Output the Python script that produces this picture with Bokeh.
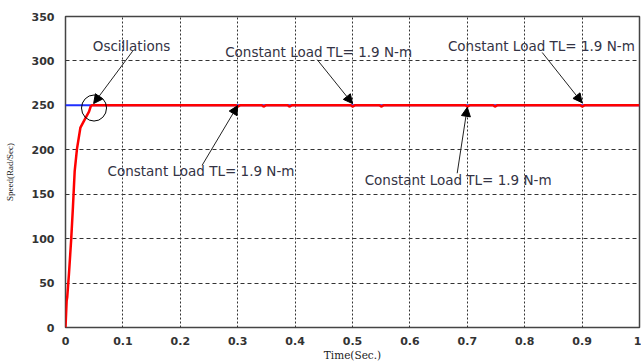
from bokeh.plotting import figure
from bokeh.models import Range1d, FixedTicker, Arrow, NormalHead
from bokeh.core.properties import value
from bokeh.embed import file_html
from bokeh.resources import INLINE

# Rotor speed response (Rad/Sec) against time (Sec.)
time = [0.0, 0.001, 0.002, 0.003, 0.006, 0.010, 0.013, 0.016, 0.020, 0.026,
        0.035, 0.041, 0.044, 0.046,
        0.297, 0.300, 0.304, 0.342, 0.345, 0.349, 0.387, 0.390, 0.394,
        0.497, 0.500, 0.504, 0.547, 0.550, 0.554,
        0.697, 0.700, 0.704, 0.745, 0.748, 0.752,
        0.897, 0.900, 0.904, 1.0]
speed = [0, 15, 30, 34, 60, 100, 136, 176, 201, 225,
         236, 243, 249, 250,
         250, 248.6, 250, 250, 248.6, 250, 250, 248.6, 250,
         250, 248.6, 250, 250, 248.6, 250,
         250, 248.6, 250, 250, 248.6, 250,
         250, 248.6, 250, 250]

# Reference speed
ref_time = [0.0, 1.0]
ref_speed = [250, 250]

# Instants where the constant load is marked
load_times = [0.3, 0.5, 0.7, 0.9]
load_label = "Constant Load TL= 1.9 N-m"

x_ticks = [0, 0.1, 0.2, 0.3, 0.4, 0.5, 0.6, 0.7, 0.8, 0.9, 1.0]
x_tick_labels = ["0", "0.1", "0.2", "0.3", "0.4", "0.5", "0.6", "0.7", "0.8", "0.9", "1"]
y_ticks = [0, 50, 100, 150, 200, 250, 300, 350]

p = figure(width=641, height=363, output_backend="svg", toolbar_location=None,
           x_range=Range1d(0, 1), y_range=Range1d(0, 350),
           min_border_left=65, min_border_right=2, min_border_top=16, min_border_bottom=25)

p.background_fill_color = "white"
p.border_fill_color = "white"
p.outline_line_color = "#444444"
p.outline_line_width = 1.5

# grid: dotted verticals, dashed horizontals
p.xgrid.grid_line_color = "#333333"
p.xgrid.grid_line_dash = "2 2"
p.ygrid.grid_line_color = "#333333"
p.ygrid.grid_line_dash = "4 3"

p.xaxis.ticker = FixedTicker(ticks=x_ticks)
p.xaxis.major_label_overrides = {t: s for t, s in zip(x_ticks, x_tick_labels)}
p.yaxis.ticker = FixedTicker(ticks=y_ticks)

for ax in (p.xaxis[0], p.yaxis[0]):
    ax.axis_line_color = None
    ax.major_tick_line_color = None
    ax.minor_tick_line_color = None
    ax.major_label_text_font = "DejaVu Sans"
    ax.major_label_text_font_style = "bold"
    ax.major_label_text_font_size = "11px"
    ax.major_label_text_color = "#333333"
    ax.axis_label_text_font_style = "normal"
    ax.axis_label_text_color = "#222222"

p.xaxis.major_label_standoff = 3
p.yaxis.major_label_standoff = 5
p.xaxis.axis_label = "Time(Sec.)"
p.xaxis.axis_label_text_font = "DejaVu Serif"
p.xaxis.axis_label_text_font_size = "10.5px"
p.xaxis.axis_label_standoff = 1
p.yaxis.axis_label = "Speed(Rad/Sec)"
p.yaxis.axis_label_text_font = "Liberation Serif"
p.yaxis.axis_label_text_font_size = "9px"
p.yaxis.axis_label_standoff = 14

# reference (blue) under the measured speed (red)
p.line(ref_time, ref_speed, line_color="#1f2fff", line_width=2)
p.line(time, speed, line_color="#ff0000", line_width=2.5)

# annotations
osc_center = (0.0497, 247)
p.ellipse(x=[osc_center[0]], y=[osc_center[1]], width=0.0436, height=29.3,
          fill_alpha=0, line_color="black", line_width=1)

texts = ["Oscillations", load_label, load_label, load_label, load_label]
text_x = [0.115, 0.441, 0.829, 0.236, 0.684]
text_y = [317, 310, 316.5, 176, 166.3]
p.text(x=text_x, y=text_y, text=texts, text_align="center", text_baseline="middle",
       text_font=value("DejaVu Sans"), text_font_size="13.5px", text_color="#333344")

arrow_start = [(0.117, 311), (0.4385, 301.4), (0.8305, 309.5), (0.2381, 182.6), (0.6824, 173.6)]
arrow_end = [(0.049, 252), (load_times[1], 252), (load_times[3], 253),
             (load_times[0], 249.7), (load_times[2], 247.8)]
for (xs, ys), (xe, ye) in zip(arrow_start, arrow_end):
    p.add_layout(Arrow(end=NormalHead(size=9, fill_color="black", line_color="black"),
                       x_start=xs, y_start=ys, x_end=xe, y_end=ye,
                       line_color="#222222", line_width=1))

open("out.html", "w").write(file_html(p, INLINE))
